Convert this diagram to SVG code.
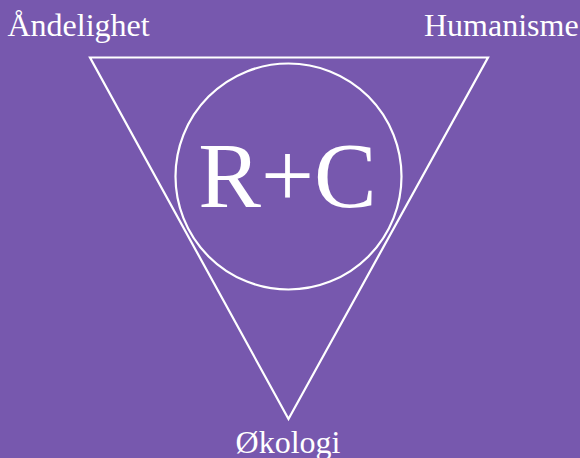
<svg xmlns="http://www.w3.org/2000/svg" width="580" height="458" viewBox="0 0 580 458">
<style>
.lbl{font-family:"Liberation Serif","Times New Roman",serif;fill:#fff;font-size:32px}
.shape{fill:none;stroke:#fff;stroke-width:2.2}
</style>
<rect width="580" height="458" fill="#7758ae"/>
<g id="connectors">
<polygon id="triangle" class="shape" points="90,57.5 488,57.5 288.5,419"/>
</g>
<g id="center">
<circle class="shape" cx="288.5" cy="176.5" r="113"/>
<text class="lbl" x="287.5" y="207" text-anchor="middle" style="font-size:94px">R+C</text>
</g>
<g id="andelighet"><text class="lbl" x="7.5" y="36">Åndelighet</text></g>
<g id="humanisme"><text class="lbl" x="424" y="36">Humanisme</text></g>
<g id="okologi"><text class="lbl" x="288" y="453" text-anchor="middle">Økologi</text></g>
</svg>
